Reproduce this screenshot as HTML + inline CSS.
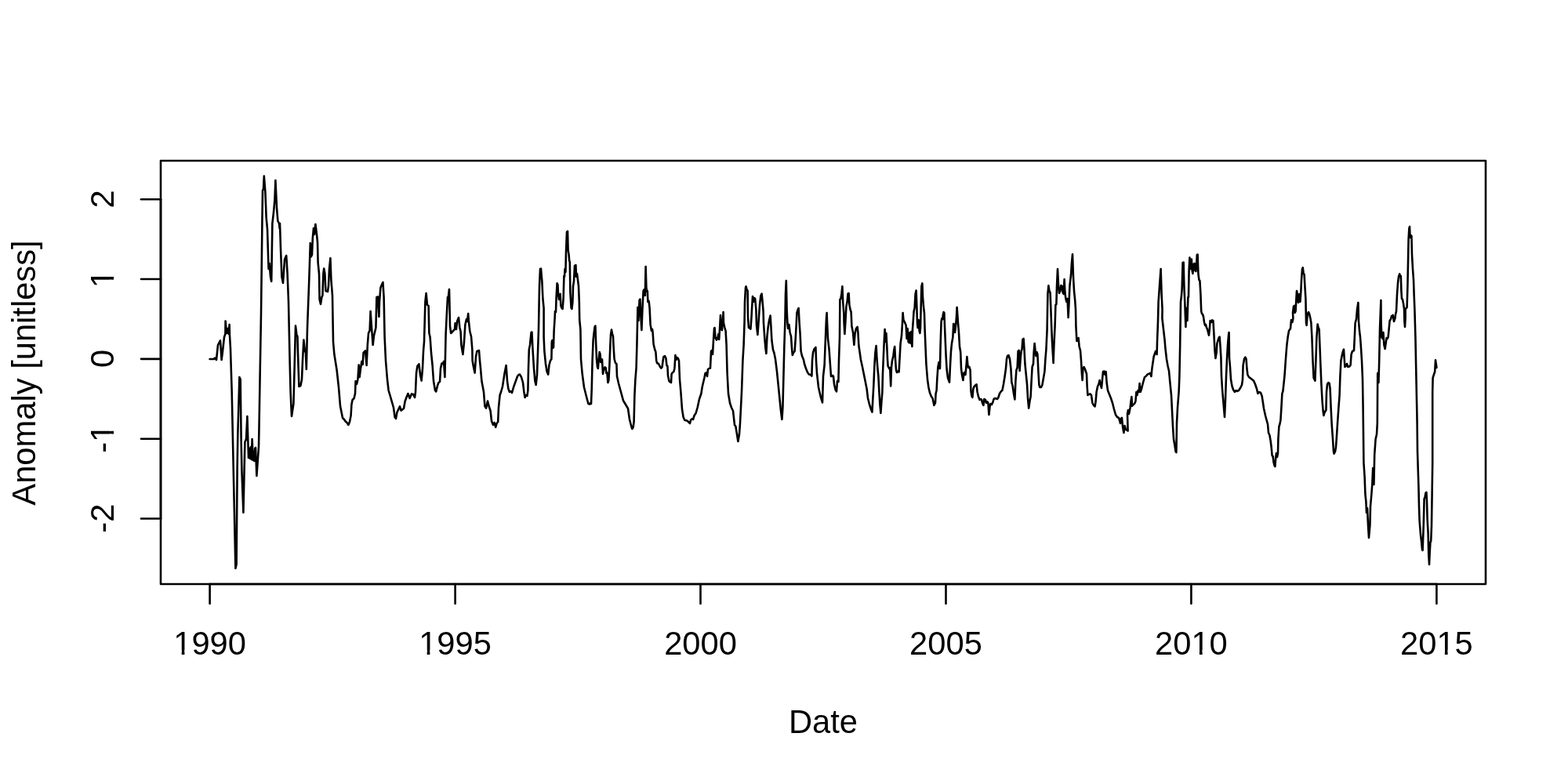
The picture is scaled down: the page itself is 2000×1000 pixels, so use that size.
<!DOCTYPE html>
<html><head><meta charset="utf-8"><title>Anomaly</title>
<style>
html,body{margin:0;padding:0;background:#fff;}
svg{display:block;}
text{font-family:"Liberation Sans",sans-serif;fill:#000;}
</style></head><body>
<svg width="2000" height="1000" viewBox="0 0 2000 1000">
<rect x="0" y="0" width="2000" height="1000" fill="#fff"/>
<rect x="205" y="205" width="1690" height="540" fill="none" stroke="#000" stroke-width="2.6" stroke-linejoin="round"/>
<g stroke="#000" stroke-width="2.6" fill="none" stroke-linecap="round">
<path d="M267.6 745 H1832.4"/>
<path d="M267.6 745 V770"/>
<path d="M580.6 745 V770"/>
<path d="M893.5 745 V770"/>
<path d="M1206.5 745 V770"/>
<path d="M1519.4 745 V770"/>
<path d="M1832.4 745 V770"/>
<path d="M205 661.5 V254.2"/>
<path d="M205 254.2 H180"/>
<path d="M205 356.0 H180"/>
<path d="M205 457.85 H180"/>
<path d="M205 559.7 H180"/>
<path d="M205 661.5 H180"/>
</g>
<g transform="translate(267.59 834.50)"><text x="0" y="0" font-size="41.7" text-anchor="middle">1990</text><rect x="-44.70" y="-5.42" width="8.80" height="6.67" fill="#fff"/><rect x="-32.19" y="-5.42" width="8.55" height="6.67" fill="#fff"/></g>
<g transform="translate(580.56 834.50)"><text x="0" y="0" font-size="41.7" text-anchor="middle">1995</text><rect x="-44.70" y="-5.42" width="8.80" height="6.67" fill="#fff"/><rect x="-32.19" y="-5.42" width="8.55" height="6.67" fill="#fff"/></g>
<g transform="translate(893.52 834.50)"><text x="0" y="0" font-size="41.7" text-anchor="middle">2000</text></g>
<g transform="translate(1206.48 834.50)"><text x="0" y="0" font-size="41.7" text-anchor="middle">2005</text></g>
<g transform="translate(1519.44 834.50)"><text x="0" y="0" font-size="41.7" text-anchor="middle">2010</text><rect x="1.67" y="-5.42" width="8.80" height="6.67" fill="#fff"/><rect x="14.18" y="-5.42" width="8.55" height="6.67" fill="#fff"/></g>
<g transform="translate(1832.41 834.50)"><text x="0" y="0" font-size="41.7" text-anchor="middle">2015</text><rect x="1.67" y="-5.42" width="8.80" height="6.67" fill="#fff"/><rect x="14.18" y="-5.42" width="8.55" height="6.67" fill="#fff"/></g>
<g transform="translate(145.30 253.80) rotate(-90)"><text x="0" y="0" font-size="41.7" text-anchor="middle">2</text></g>
<g transform="translate(145.30 355.60) rotate(-90)"><text x="0" y="0" font-size="41.7" text-anchor="middle">1</text><rect x="-9.92" y="-5.42" width="8.80" height="6.67" fill="#fff"/><rect x="2.59" y="-5.42" width="8.55" height="6.67" fill="#fff"/></g>
<g transform="translate(145.30 457.45) rotate(-90)"><text x="0" y="0" font-size="41.7" text-anchor="middle">0</text></g>
<g transform="translate(145.30 559.30) rotate(-90)"><text x="0" y="0" font-size="41.7" text-anchor="middle">-1</text><rect x="-2.98" y="-5.42" width="8.80" height="6.67" fill="#fff"/><rect x="9.53" y="-5.42" width="8.55" height="6.67" fill="#fff"/></g>
<g transform="translate(145.30 661.10) rotate(-90)"><text x="0" y="0" font-size="41.7" text-anchor="middle">-2</text></g>
<g transform="translate(1050.00 934.50)"><text x="0" y="0" font-size="41.7" text-anchor="middle">Date</text></g>
<g transform="translate(45.30 475.50) rotate(-90)"><text x="0" y="0" font-size="41.7" text-anchor="middle">Anomaly [unitless]</text></g>
<path d="M267.6 458.0 L273.0 458.0 L274.0 456.6 L276.0 459.0 L278.0 440.0 L281.0 434.4 L282.6 459.0 L284.0 448.0 L286.0 430.0 L287.4 426.0 L287.6 409.6 L289.0 425.0 L290.4 419.0 L291.6 426.0 L292.6 414.0 L293.0 428.0 L294.0 445.0 L295.7 500.0 L300.4 725.0 L301.6 720.0 L302.6 600.0 L303.3 555.0 L305.4 481.0 L306.7 484.0 L307.6 560.0 L308.4 600.0 L310.4 653.6 L312.4 564.0 L314.0 560.0 L315.4 531.0 L317.0 584.0 L318.4 572.0 L319.2 585.0 L320.0 570.0 L320.8 586.0 L321.6 560.0 L322.8 587.0 L323.6 576.0 L324.4 588.0 L325.2 572.0 L326.0 571.0 L327.4 607.0 L330.0 570.0 L330.4 550.0 L331.6 480.0 L333.0 400.0 L334.4 285.0 L335.0 243.0 L336.0 241.0 L336.8 224.6 L338.4 245.0 L339.6 277.0 L341.0 292.0 L342.0 325.0 L342.6 343.0 L343.6 336.0 L345.0 353.0 L346.2 359.0 L347.4 285.0 L349.0 271.0 L350.4 255.0 L351.4 230.0 L353.0 265.0 L354.4 282.0 L356.0 285.0 L356.6 291.0 L357.0 285.0 L358.0 317.0 L359.4 353.0 L361.0 361.0 L363.0 331.0 L365.2 326.0 L366.6 349.0 L368.0 385.0 L369.6 460.0 L370.6 500.0 L372.0 531.0 L374.4 515.0 L375.6 470.0 L377.0 415.6 L378.4 427.0 L379.4 429.0 L380.0 450.0 L381.4 493.0 L383.4 492.0 L385.0 484.0 L386.0 460.0 L387.4 433.6 L389.0 448.0 L390.0 450.0 L390.8 471.0 L392.0 418.0 L394.0 365.0 L395.0 335.0 L395.8 310.0 L396.8 327.4 L398.0 325.0 L398.8 304.0 L400.0 291.0 L401.0 299.0 L402.4 286.0 L404.0 299.0 L405.0 309.0 L405.6 335.0 L407.0 349.0 L407.6 382.0 L409.0 388.0 L410.4 379.0 L411.4 377.0 L412.4 349.0 L413.2 342.6 L414.4 349.0 L415.4 371.0 L418.0 372.0 L419.0 365.0 L420.0 343.0 L421.4 329.4 L422.4 357.0 L424.0 377.0 L425.0 436.0 L426.4 452.0 L429.6 472.0 L432.0 494.0 L434.0 518.0 L437.0 533.0 L439.0 535.0 L441.0 538.0 L442.0 538.4 L444.4 542.0 L446.0 538.0 L447.6 530.0 L448.4 516.0 L449.6 510.0 L451.6 508.0 L453.0 502.0 L453.6 486.0 L455.0 490.0 L456.4 484.0 L457.6 465.6 L458.6 481.0 L460.0 470.0 L461.4 461.0 L462.6 465.0 L463.6 450.0 L466.0 447.4 L467.6 466.0 L468.8 440.0 L470.0 425.0 L471.6 421.6 L472.6 397.0 L473.6 412.0 L475.6 440.0 L477.0 428.0 L479.4 418.0 L480.4 379.0 L482.0 378.6 L483.4 404.0 L484.0 385.0 L485.4 367.0 L487.0 363.0 L488.4 360.0 L489.6 379.0 L490.6 430.0 L492.0 460.0 L494.0 484.0 L495.6 498.0 L498.0 506.0 L502.0 520.0 L503.6 532.0 L505.0 534.0 L506.4 526.0 L510.0 518.4 L511.6 523.6 L515.0 521.0 L516.6 512.0 L518.0 508.0 L520.4 502.0 L522.6 508.0 L525.0 502.4 L527.0 503.0 L529.0 507.0 L530.0 500.0 L531.0 476.0 L532.4 467.0 L534.4 464.4 L536.0 478.0 L537.6 485.6 L539.0 470.0 L540.0 448.0 L541.0 436.0 L542.4 385.0 L543.6 374.0 L545.0 389.0 L546.6 390.0 L547.4 425.0 L548.6 430.0 L550.0 450.0 L551.6 466.0 L553.0 486.0 L555.0 498.0 L556.2 499.4 L558.0 492.0 L559.4 488.0 L561.0 487.0 L562.0 470.0 L563.4 463.6 L565.0 464.0 L566.0 461.0 L567.4 481.0 L568.6 426.0 L569.6 405.0 L571.0 379.0 L571.6 381.0 L573.0 369.0 L574.0 416.0 L575.2 425.0 L578.0 422.0 L580.0 420.0 L580.6 412.4 L582.0 420.0 L583.0 410.0 L585.0 405.0 L586.4 418.0 L587.6 423.0 L588.4 440.0 L590.4 452.0 L592.0 436.0 L593.4 414.0 L595.0 407.0 L596.0 410.0 L597.2 400.0 L598.0 411.0 L599.4 423.0 L601.0 429.0 L602.4 446.0 L602.6 460.0 L604.0 468.0 L605.6 475.6 L607.0 455.0 L608.4 448.0 L611.0 447.0 L612.0 460.0 L613.0 470.0 L614.4 486.0 L617.0 500.0 L618.4 518.0 L620.0 520.6 L622.0 511.6 L623.6 518.0 L625.6 524.0 L627.0 537.0 L629.0 542.0 L630.6 539.0 L632.2 545.0 L633.6 540.0 L635.2 538.0 L636.0 520.0 L637.6 504.0 L639.0 500.0 L641.0 493.0 L643.6 476.0 L645.6 466.0 L647.0 486.0 L648.4 496.0 L650.0 500.0 L651.6 499.0 L653.0 501.0 L655.0 494.0 L660.0 480.0 L661.6 478.0 L663.0 477.6 L665.0 481.0 L667.0 488.0 L668.4 500.0 L669.6 507.0 L671.0 504.0 L672.4 505.0 L673.4 498.0 L674.0 470.0 L674.8 446.0 L676.0 440.0 L677.6 424.0 L678.4 423.6 L679.4 444.0 L681.0 470.0 L682.4 486.0 L683.6 491.0 L685.0 478.0 L686.0 450.0 L687.0 420.0 L688.0 365.0 L689.0 343.0 L690.0 342.6 L691.4 359.0 L692.4 381.0 L693.6 393.0 L693.6 430.0 L694.4 448.0 L696.0 464.0 L697.6 474.0 L699.2 477.6 L700.4 466.0 L702.0 460.0 L703.4 458.0 L703.8 436.0 L704.4 434.0 L705.2 444.0 L706.0 443.0 L706.6 422.0 L707.6 406.0 L708.0 397.0 L709.0 398.0 L709.6 379.0 L710.6 361.4 L711.4 363.0 L712.0 375.0 L713.0 382.0 L713.6 376.0 L714.6 375.0 L715.4 390.0 L716.6 393.0 L717.6 394.0 L718.6 381.0 L719.4 352.0 L720.0 353.0 L720.6 343.0 L721.4 347.0 L722.0 321.0 L723.0 296.0 L724.0 295.0 L724.6 319.0 L725.6 325.0 L726.2 333.0 L726.8 334.0 L727.4 373.0 L728.6 393.0 L729.4 394.0 L730.4 385.0 L731.0 365.0 L732.0 359.0 L733.0 339.0 L734.4 338.0 L735.0 353.0 L736.0 349.0 L737.0 357.0 L738.0 365.0 L738.8 385.0 L739.2 408.0 L740.4 420.0 L741.0 458.0 L742.6 476.0 L745.0 494.0 L748.0 506.0 L750.4 515.0 L752.0 515.6 L753.0 514.0 L754.0 515.0 L754.8 494.0 L755.6 460.0 L756.6 434.0 L757.6 425.0 L758.6 417.0 L759.4 415.6 L760.0 434.0 L761.0 458.0 L762.0 468.0 L762.8 470.0 L763.6 460.0 L764.6 449.0 L765.6 452.0 L766.2 462.0 L767.0 458.0 L768.0 458.4 L769.0 477.0 L770.0 472.0 L771.6 468.4 L772.6 469.0 L773.4 476.0 L774.4 475.6 L775.4 488.0 L776.4 485.0 L777.4 466.0 L778.4 440.0 L779.0 427.0 L780.0 420.6 L781.0 426.0 L782.0 429.0 L782.6 442.0 L783.6 458.0 L785.0 463.0 L786.4 464.0 L787.0 480.0 L789.0 489.0 L792.0 500.0 L795.0 511.0 L798.0 516.0 L801.0 521.0 L803.0 535.0 L805.6 545.0 L806.4 547.0 L807.6 545.0 L808.6 538.0 L809.4 504.0 L810.4 484.0 L811.6 469.0 L812.4 440.0 L813.0 412.0 L813.4 392.0 L814.4 409.0 L815.6 383.0 L816.4 381.6 L817.4 404.0 L818.4 421.0 L819.4 395.0 L820.6 371.0 L821.6 369.4 L822.8 377.0 L823.6 340.0 L824.4 367.0 L825.2 372.0 L825.8 371.0 L826.4 385.0 L827.6 384.0 L828.6 393.0 L829.6 414.0 L831.0 422.0 L832.0 420.0 L832.6 424.0 L833.6 439.0 L835.0 445.0 L836.4 449.0 L837.2 460.0 L838.0 463.0 L840.0 464.0 L842.0 468.0 L843.4 469.6 L844.6 468.0 L845.6 460.0 L846.4 455.0 L848.0 454.0 L849.4 457.0 L850.4 466.0 L851.4 467.0 L852.0 479.0 L853.4 486.0 L855.0 487.4 L856.0 488.0 L856.6 477.0 L858.0 475.0 L859.4 474.0 L860.4 470.0 L861.4 453.0 L862.4 459.0 L863.6 456.0 L864.8 457.0 L866.0 460.0 L867.0 484.0 L868.4 500.0 L870.0 522.0 L871.6 532.0 L873.4 536.0 L876.0 536.4 L878.0 538.0 L880.0 540.0 L881.0 536.0 L882.4 534.4 L884.0 535.0 L885.6 530.0 L887.6 527.0 L889.6 520.0 L892.0 509.0 L894.4 502.0 L895.6 494.0 L897.0 488.0 L898.4 482.0 L899.6 476.0 L901.0 475.6 L902.0 480.0 L903.0 471.0 L904.4 470.0 L906.0 469.6 L907.0 448.0 L908.0 447.0 L909.0 452.0 L910.0 434.0 L911.0 419.0 L911.6 418.0 L912.4 430.0 L914.0 433.6 L915.6 430.0 L916.4 426.0 L917.2 433.0 L918.0 420.0 L919.0 402.0 L920.0 420.0 L921.0 421.0 L922.6 398.0 L923.0 412.0 L924.4 418.0 L925.6 422.0 L926.6 440.0 L927.6 476.0 L929.0 502.0 L931.0 514.0 L933.0 520.0 L935.0 524.0 L937.0 542.0 L938.4 544.0 L940.0 554.0 L941.4 563.0 L943.0 554.0 L944.0 540.0 L945.0 520.0 L946.0 500.0 L947.4 460.0 L948.6 440.0 L949.6 410.0 L950.0 385.0 L951.0 367.0 L951.6 365.4 L952.4 369.0 L953.6 371.0 L954.0 404.0 L955.0 418.0 L956.4 418.4 L957.4 419.6 L958.4 406.0 L959.0 395.0 L960.0 378.0 L961.0 385.0 L962.0 380.0 L963.2 381.0 L964.4 395.0 L965.0 415.0 L966.4 427.0 L967.6 410.0 L969.0 389.0 L970.4 377.0 L971.6 374.6 L972.6 385.0 L973.6 397.0 L974.0 412.0 L975.2 430.0 L976.4 444.0 L977.4 451.0 L978.4 430.0 L979.6 418.0 L981.0 409.0 L982.6 402.6 L983.4 416.0 L984.4 434.0 L986.0 446.0 L987.4 450.0 L989.0 458.0 L991.0 474.0 L993.0 494.0 L994.4 508.0 L996.0 524.0 L997.4 535.0 L998.4 520.0 L999.4 480.0 L1000.4 440.0 L1001.4 410.0 L1002.0 375.0 L1002.8 358.0 L1003.6 395.0 L1004.4 412.0 L1005.2 419.0 L1006.4 414.0 L1007.6 424.0 L1009.0 429.0 L1010.0 444.0 L1010.8 453.0 L1012.0 450.0 L1013.6 448.0 L1014.6 434.0 L1015.6 416.0 L1016.4 399.0 L1017.6 395.0 L1018.6 393.0 L1019.6 412.0 L1020.6 426.0 L1021.6 448.0 L1023.0 454.0 L1025.0 459.0 L1026.0 464.0 L1028.0 470.0 L1030.0 475.0 L1032.0 477.6 L1034.0 478.0 L1035.4 479.6 L1036.0 460.0 L1037.0 450.0 L1038.6 445.0 L1040.4 443.0 L1041.0 460.0 L1042.0 476.0 L1044.0 494.0 L1047.0 507.0 L1049.0 513.4 L1050.0 480.0 L1051.6 466.0 L1052.6 440.0 L1053.4 420.0 L1054.0 406.0 L1054.6 399.0 L1055.0 410.0 L1056.0 432.0 L1057.6 446.0 L1059.0 466.0 L1060.0 480.0 L1061.0 480.0 L1062.0 479.0 L1063.0 480.0 L1064.0 490.0 L1065.6 497.0 L1067.0 499.4 L1068.0 486.0 L1069.4 487.0 L1070.0 460.0 L1071.0 430.0 L1071.4 382.0 L1072.4 381.0 L1073.4 375.0 L1074.4 365.4 L1075.2 385.0 L1076.4 401.0 L1076.6 412.0 L1077.4 426.0 L1078.4 410.0 L1079.4 391.0 L1080.6 385.0 L1081.6 374.4 L1082.6 374.0 L1083.4 389.0 L1084.6 395.0 L1085.6 398.0 L1086.4 416.0 L1088.0 424.0 L1089.4 440.0 L1090.6 425.0 L1092.0 419.0 L1093.6 417.0 L1094.4 424.0 L1095.4 441.0 L1097.0 452.0 L1098.0 459.0 L1100.0 468.0 L1102.0 478.0 L1104.0 488.0 L1105.6 496.0 L1107.0 508.0 L1109.0 516.0 L1111.0 522.0 L1112.4 525.6 L1113.4 508.0 L1114.4 490.0 L1115.4 466.0 L1116.4 450.0 L1117.6 441.0 L1118.4 456.0 L1119.4 470.0 L1120.4 480.0 L1121.4 500.0 L1122.4 516.0 L1123.4 527.0 L1124.4 512.0 L1125.4 500.0 L1126.0 476.0 L1127.0 452.0 L1128.0 430.0 L1128.6 420.0 L1129.4 436.0 L1130.4 425.0 L1131.2 440.0 L1132.0 458.0 L1132.6 467.0 L1134.4 470.4 L1135.2 469.0 L1136.2 492.4 L1137.0 468.0 L1138.0 460.0 L1139.4 454.0 L1140.4 446.0 L1141.2 442.0 L1142.0 458.0 L1143.0 472.0 L1144.0 475.0 L1145.4 473.6 L1146.6 474.4 L1147.6 456.0 L1148.6 438.0 L1150.0 428.0 L1151.0 412.0 L1151.6 399.0 L1152.4 408.0 L1154.0 411.0 L1155.6 415.0 L1156.6 432.0 L1157.6 419.0 L1158.6 436.0 L1159.4 437.0 L1160.6 424.0 L1161.6 438.0 L1162.4 423.0 L1163.4 442.0 L1164.0 420.0 L1165.0 406.0 L1165.6 397.0 L1166.6 393.0 L1167.6 375.0 L1168.6 370.6 L1169.4 393.0 L1170.0 412.0 L1170.6 418.0 L1171.6 408.0 L1172.6 422.0 L1173.4 425.0 L1174.0 418.0 L1174.6 395.0 L1175.4 365.0 L1176.4 361.4 L1177.0 379.0 L1178.0 391.0 L1179.0 400.0 L1179.6 420.0 L1180.4 440.0 L1181.4 464.0 L1183.0 484.0 L1184.4 494.0 L1186.0 501.0 L1188.0 506.0 L1189.6 508.0 L1190.4 512.0 L1191.4 517.0 L1193.0 514.0 L1193.6 502.0 L1194.6 498.0 L1195.4 482.0 L1196.4 468.0 L1197.6 462.0 L1198.4 470.0 L1199.0 470.0 L1199.6 440.0 L1200.6 410.0 L1201.4 406.0 L1202.4 407.0 L1202.6 403.0 L1203.6 398.0 L1204.4 399.0 L1204.6 406.0 L1205.4 426.0 L1206.6 454.0 L1207.6 471.0 L1209.0 482.0 L1211.0 487.6 L1212.0 466.0 L1213.0 448.0 L1214.0 438.0 L1215.4 430.0 L1216.2 413.0 L1217.2 414.0 L1218.0 424.0 L1219.0 416.0 L1220.0 404.0 L1220.6 392.0 L1222.0 412.0 L1223.0 424.0 L1224.0 442.0 L1225.2 449.0 L1226.0 470.0 L1227.0 478.0 L1228.4 485.0 L1229.4 476.0 L1230.4 475.0 L1231.4 478.0 L1232.4 468.0 L1233.4 455.0 L1234.4 466.0 L1235.4 469.0 L1236.4 468.0 L1237.6 472.0 L1238.4 498.0 L1239.4 505.0 L1240.4 507.0 L1241.4 496.0 L1242.6 493.0 L1244.0 491.6 L1245.6 490.4 L1246.6 500.0 L1248.0 506.0 L1249.6 510.0 L1251.0 509.0 L1252.0 509.6 L1253.0 514.0 L1254.4 517.0 L1255.4 509.0 L1257.0 510.0 L1258.0 514.0 L1259.4 512.4 L1260.4 514.0 L1261.4 529.0 L1262.6 518.0 L1263.6 515.0 L1265.0 516.0 L1266.4 513.0 L1267.6 509.0 L1269.6 508.0 L1272.0 509.0 L1273.4 507.0 L1275.0 502.0 L1277.0 499.0 L1278.4 498.0 L1280.0 490.0 L1281.6 480.0 L1283.0 470.0 L1284.0 458.0 L1285.0 454.0 L1286.4 453.0 L1288.0 458.0 L1289.4 470.0 L1290.4 488.0 L1291.6 492.0 L1293.0 502.0 L1294.4 509.4 L1295.4 486.0 L1296.4 472.0 L1297.6 469.0 L1298.6 448.0 L1299.6 447.0 L1300.6 473.0 L1301.6 458.0 L1302.6 448.0 L1303.6 445.0 L1304.4 433.0 L1305.6 432.0 L1306.4 444.0 L1307.4 464.0 L1309.0 480.0 L1310.0 490.0 L1311.0 508.0 L1312.2 520.6 L1313.4 512.0 L1314.6 506.0 L1315.6 486.0 L1316.6 468.0 L1318.0 464.0 L1318.6 450.0 L1319.6 438.0 L1320.6 448.0 L1321.4 454.0 L1322.4 449.0 L1323.4 452.0 L1324.4 474.0 L1325.4 491.0 L1326.4 494.0 L1328.0 494.0 L1329.4 491.0 L1331.0 482.0 L1332.4 474.0 L1333.4 458.0 L1334.4 446.0 L1335.6 420.0 L1336.4 375.0 L1337.4 364.4 L1338.4 371.0 L1339.6 373.4 L1340.4 395.0 L1341.0 412.0 L1342.0 436.0 L1343.6 463.0 L1344.4 440.0 L1345.6 416.0 L1346.4 389.0 L1347.4 388.0 L1348.0 365.0 L1349.0 343.0 L1350.0 363.0 L1351.0 374.0 L1352.4 371.0 L1353.4 364.0 L1354.6 365.0 L1355.6 373.0 L1356.6 375.0 L1357.6 356.4 L1358.4 373.0 L1359.4 381.0 L1360.4 385.0 L1361.6 381.0 L1362.6 405.0 L1363.6 385.0 L1364.4 365.0 L1366.0 351.0 L1367.0 335.0 L1368.0 324.4 L1369.0 353.0 L1370.0 371.0 L1371.2 383.0 L1372.0 395.0 L1372.4 416.0 L1373.4 435.0 L1374.6 433.0 L1375.6 431.0 L1376.6 442.0 L1378.0 447.0 L1379.0 460.0 L1380.0 478.0 L1380.6 485.0 L1381.4 470.0 L1382.6 468.0 L1384.0 471.0 L1386.0 477.0 L1386.6 492.0 L1387.4 504.0 L1389.0 503.0 L1390.4 502.4 L1392.0 504.0 L1393.4 514.0 L1395.0 517.0 L1396.6 518.4 L1397.6 512.0 L1398.6 500.0 L1400.0 493.0 L1401.4 490.0 L1402.6 485.0 L1403.6 490.0 L1405.0 495.0 L1406.0 484.0 L1407.0 474.0 L1408.4 473.6 L1409.6 478.0 L1410.6 474.0 L1411.6 488.0 L1413.0 498.0 L1415.0 503.0 L1417.0 508.0 L1419.0 514.0 L1421.0 522.0 L1423.0 529.0 L1425.0 532.0 L1427.0 533.0 L1428.0 536.0 L1429.0 540.0 L1430.0 534.0 L1431.0 533.0 L1432.0 544.0 L1433.4 552.0 L1434.6 543.0 L1436.0 548.0 L1437.4 548.4 L1438.6 549.6 L1438.0 528.0 L1439.0 523.0 L1440.0 528.0 L1441.6 520.0 L1442.4 513.0 L1443.4 506.0 L1444.0 518.0 L1445.6 516.0 L1447.0 515.0 L1448.4 512.0 L1449.4 500.0 L1450.4 504.0 L1451.6 498.0 L1452.6 500.0 L1453.6 489.0 L1454.6 500.0 L1456.0 496.0 L1458.0 488.0 L1460.0 481.0 L1461.6 480.0 L1463.6 477.6 L1465.6 476.6 L1467.0 476.0 L1468.4 480.0 L1469.4 470.0 L1470.6 462.0 L1471.6 455.0 L1473.0 451.0 L1474.0 448.0 L1475.6 452.0 L1476.0 436.0 L1477.0 410.0 L1477.6 385.0 L1479.0 365.0 L1480.6 343.0 L1481.6 375.0 L1482.6 395.0 L1482.4 406.0 L1484.0 420.0 L1485.6 434.0 L1486.4 444.0 L1488.0 458.0 L1489.6 467.0 L1491.0 473.0 L1492.4 488.0 L1494.0 504.0 L1495.0 524.0 L1496.0 544.0 L1497.0 560.0 L1498.4 568.0 L1499.6 576.0 L1500.4 577.0 L1501.0 540.0 L1502.0 520.0 L1503.6 500.0 L1504.4 480.0 L1505.2 440.0 L1506.0 385.0 L1506.8 379.0 L1507.6 369.0 L1508.6 335.0 L1509.6 334.6 L1510.4 365.0 L1511.4 389.0 L1512.4 417.0 L1513.2 393.0 L1514.4 409.0 L1515.4 379.0 L1516.0 379.0 L1516.6 345.0 L1517.4 328.6 L1518.2 343.0 L1519.0 331.0 L1519.8 330.6 L1520.6 345.0 L1521.4 349.0 L1522.4 337.0 L1523.6 336.0 L1524.4 345.0 L1525.4 346.0 L1526.2 337.0 L1526.8 325.0 L1527.6 324.6 L1528.4 349.0 L1529.4 357.0 L1530.4 358.0 L1531.4 375.0 L1532.2 397.0 L1533.0 400.0 L1534.0 401.0 L1535.0 404.0 L1536.0 411.0 L1537.0 415.0 L1538.0 414.0 L1539.0 418.0 L1540.0 420.0 L1541.0 424.0 L1542.0 427.6 L1543.0 418.0 L1543.6 409.0 L1545.0 411.0 L1546.0 408.4 L1547.4 409.0 L1548.4 426.0 L1549.4 446.0 L1550.4 457.0 L1551.6 450.0 L1552.4 438.0 L1553.6 434.0 L1554.6 431.0 L1555.6 429.6 L1556.4 440.0 L1557.4 456.0 L1558.0 480.0 L1559.0 496.0 L1560.0 508.0 L1561.0 520.0 L1562.0 532.0 L1563.0 510.0 L1564.0 480.0 L1565.0 458.0 L1566.0 440.0 L1567.0 428.0 L1567.6 424.0 L1568.0 456.0 L1569.0 468.0 L1570.0 484.0 L1571.4 492.0 L1573.0 497.0 L1575.0 500.0 L1576.4 498.0 L1578.0 499.0 L1580.0 498.0 L1582.0 495.0 L1584.0 491.0 L1585.0 484.0 L1585.6 466.0 L1587.0 458.0 L1588.4 455.6 L1589.6 458.0 L1590.4 470.0 L1591.4 478.0 L1593.0 481.0 L1595.0 482.4 L1597.0 484.0 L1599.0 485.6 L1601.0 490.0 L1603.0 496.0 L1604.4 502.0 L1606.0 500.0 L1608.0 501.0 L1609.6 505.0 L1611.0 514.0 L1612.0 521.0 L1614.0 530.0 L1615.6 536.0 L1617.0 541.0 L1618.0 552.0 L1619.4 555.0 L1620.6 562.0 L1621.6 570.0 L1622.6 581.0 L1623.6 582.0 L1624.6 590.0 L1625.6 594.0 L1626.4 595.0 L1627.2 584.0 L1628.0 578.0 L1629.0 583.0 L1630.0 578.0 L1630.4 560.0 L1631.4 544.0 L1632.4 541.0 L1633.4 536.0 L1634.4 520.0 L1635.4 502.0 L1636.4 499.0 L1637.6 488.0 L1638.6 478.0 L1639.4 466.0 L1640.4 452.0 L1641.4 440.0 L1642.6 430.0 L1644.0 422.0 L1646.0 419.0 L1647.0 408.0 L1648.4 411.0 L1649.4 406.0 L1649.0 399.0 L1650.0 391.0 L1651.0 390.0 L1651.6 399.0 L1652.6 397.0 L1653.4 381.0 L1654.0 371.0 L1655.0 375.0 L1656.0 386.0 L1657.0 379.0 L1657.6 375.0 L1658.4 385.0 L1659.4 371.0 L1660.0 357.0 L1661.0 343.0 L1661.8 341.4 L1662.6 349.0 L1663.6 350.0 L1664.4 365.0 L1665.4 381.0 L1666.0 412.0 L1666.6 415.0 L1667.6 402.0 L1668.0 400.0 L1669.0 398.0 L1670.0 400.0 L1671.4 406.0 L1672.4 412.0 L1673.4 430.0 L1674.4 458.0 L1675.6 482.0 L1676.6 484.0 L1677.4 485.6 L1678.4 460.0 L1679.4 430.0 L1680.6 413.6 L1681.6 418.0 L1682.6 420.0 L1683.4 440.0 L1684.4 466.0 L1685.4 490.0 L1686.6 512.0 L1687.6 524.0 L1688.4 530.0 L1689.6 526.0 L1691.4 523.0 L1692.0 500.0 L1693.0 490.0 L1694.4 488.0 L1695.6 489.0 L1696.6 496.0 L1697.6 520.0 L1698.6 540.0 L1700.0 560.0 L1701.0 576.0 L1701.6 578.6 L1703.0 576.0 L1704.0 570.0 L1705.0 556.0 L1706.0 540.0 L1707.4 520.0 L1708.6 504.0 L1709.4 480.0 L1710.4 460.0 L1712.0 452.0 L1713.0 448.0 L1714.0 445.6 L1714.6 456.0 L1715.4 468.0 L1716.6 467.0 L1718.0 464.0 L1719.4 468.0 L1721.0 467.6 L1722.6 465.6 L1723.6 452.0 L1725.0 448.0 L1727.0 447.0 L1728.0 426.0 L1728.6 412.0 L1730.0 407.0 L1731.0 395.0 L1732.4 386.0 L1733.0 410.0 L1734.0 422.0 L1735.0 430.0 L1736.0 444.0 L1737.0 460.0 L1738.0 484.0 L1738.6 520.0 L1739.4 590.0 L1740.6 608.0 L1741.4 630.0 L1742.4 640.0 L1743.0 654.0 L1744.0 648.0 L1745.0 670.0 L1746.0 686.0 L1747.4 670.0 L1748.0 646.0 L1749.4 630.0 L1750.4 616.0 L1751.2 597.0 L1752.4 618.0 L1753.2 580.0 L1754.6 560.0 L1756.0 554.0 L1756.8 540.0 L1757.2 476.0 L1758.4 488.0 L1759.2 460.0 L1760.0 420.0 L1761.4 383.0 L1761.6 412.0 L1762.4 430.0 L1763.4 432.0 L1764.4 424.0 L1765.4 440.0 L1766.6 445.0 L1767.6 438.0 L1768.6 431.0 L1769.6 432.0 L1770.6 430.0 L1771.6 420.0 L1772.6 409.0 L1774.0 407.0 L1775.0 403.0 L1775.6 403.0 L1776.6 402.0 L1778.0 410.0 L1779.4 406.0 L1780.0 401.0 L1781.0 397.0 L1782.0 375.0 L1783.0 361.0 L1784.0 353.0 L1785.2 349.4 L1786.0 353.0 L1786.8 352.0 L1787.4 371.0 L1788.0 381.0 L1789.0 382.0 L1790.0 387.0 L1791.0 394.0 L1791.4 410.0 L1792.0 417.0 L1792.6 406.0 L1792.6 395.0 L1793.6 393.0 L1794.6 392.0 L1795.4 365.0 L1796.0 335.0 L1796.6 305.0 L1797.4 291.0 L1798.0 289.0 L1798.6 303.0 L1799.4 300.0 L1800.4 301.0 L1801.0 325.0 L1802.0 343.0 L1803.0 357.0 L1803.6 375.0 L1804.4 395.0 L1805.4 430.0 L1806.4 480.0 L1807.6 540.0 L1808.0 576.0 L1809.4 620.0 L1810.0 646.0 L1810.6 664.0 L1812.0 682.0 L1813.0 690.0 L1814.0 701.0 L1814.6 702.0 L1815.4 680.0 L1816.0 662.0 L1816.6 636.0 L1817.4 635.0 L1818.4 629.0 L1819.4 628.0 L1820.0 640.0 L1820.6 662.0 L1821.6 680.0 L1822.2 706.0 L1823.0 720.0 L1823.6 706.0 L1824.4 692.0 L1825.2 690.0 L1826.0 670.0 L1826.6 630.0 L1827.2 590.0 L1827.2 500.0 L1827.6 482.0 L1829.2 477.0 L1830.2 474.0 L1831.0 459.3 L1832.4 469.0" fill="none" stroke="#000" stroke-width="2.6" stroke-linejoin="round" stroke-linecap="round"/>
</svg></body></html>
